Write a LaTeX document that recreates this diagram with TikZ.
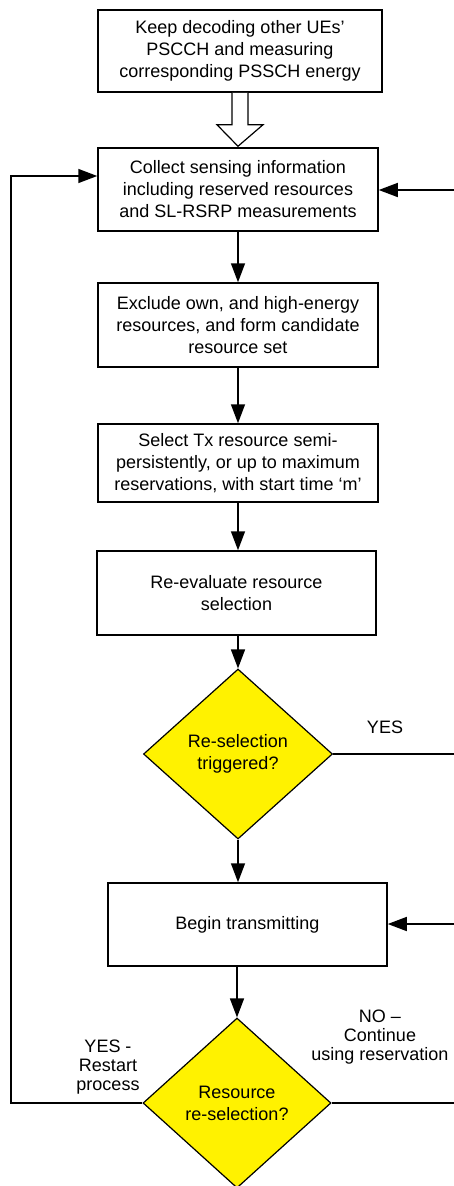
\documentclass[tikz,border=0pt]{standalone}
\usepackage{fontspec}
\setmainfont{Liberation Sans}
\usetikzlibrary{arrows.meta,calc,shapes.geometric}
\begin{document}
\begin{tikzpicture}[x=1pt,y=-1pt,
  line width=1.5pt,
  boxnode/.style={draw,rectangle,minimum width=280pt,inner sep=0pt,align=center,
    font=\fontsize{18pt}{22pt}\selectfont},
  decision/.style={draw,diamond,fill=yellow,minimum width=189pt,minimum height=170pt,
    inner sep=0pt,align=center,line width=1.2pt,font=\fontsize{18pt}{22pt}\selectfont},
  lbl/.style={align=center,inner sep=0pt,font=\fontsize{18pt}{19pt}\selectfont},
  arr/.style={-{Triangle[length=19pt,width=14pt]}}]
\useasboundingbox (0,0) rectangle (454,1186);
\node[boxnode,minimum width=284pt,minimum height=82pt] (b1) at (240,51)
  {Keep decoding other UEs’\\PSCCH and measuring\\corresponding PSSCH energy};
\node[boxnode,minimum height=83pt] (b2) at (238,189.5)
  {Collect sensing information\\including reserved resources\\and SL-RSRP measurements};
\node[boxnode,minimum height=84pt] (b3) at (238,325)
  {Exclude own, and high-energy\\resources, and form candidate\\resource set};
\node[boxnode,minimum height=78pt] (b4) at (238,463)
  {Select Tx resource semi-\\persistently, or up to maximum\\reservations, with start time ‘m’};
\node[boxnode,minimum width=279pt,minimum height=84pt] (b5) at (236.5,593)
  {Re-evaluate resource\\selection};
\node[decision] (d1) at (238,754) {Re-selection\\triggered?};
\node[boxnode,minimum width=279pt,minimum height=83pt] (b6) at (247.5,924.5)
  {Begin transmitting};
\node[decision,minimum width=188pt] (d2) at (237,1103) {Resource\\re-selection?};
% hollow arrow
\draw[line width=1.2pt,fill=white] ($(b1.south)+(-8,0)$) -- ++(0,32) -- ++(-15,0)
  -- ($(b2.north)+(0,-1)$) -- ($(b1.south)+(23,32)$) -- ++(-15,0) -- ($(b1.south)+(8,0)$);
% main flow
\draw[arr] (b2.south) -- (b3.north);
\draw[arr] (b3.south) -- (b4.north);
\draw[arr] (b4.south) -- (b4.south |- b5.north);
\draw[arr] (b5.south -| d1.north) -- (d1.north);
\draw[arr] (d1.south) -- (d1.south |- b6.north);
\draw[arr] (b6.south -| d2.north) -- (d2.north);
% left loop
\coordinate (lb) at (11,1103);
\coordinate (lt) at (11,176);
\draw[arr] (d2.west) -- (lb) -- (lt) -- (lt -| b2.west);
% right side connectors
\coordinate (r1) at (455,190);
\coordinate (r2) at (455,754);
\coordinate (r3) at (455,924);
\coordinate (r4) at (455,1103);
\draw[arr] (r1) -- (r1 -| b2.east);
\draw (d1.east) -- (r2);
\draw[arr] (r3) -- (r3 -| b6.east);
\draw (d2.east) -- (r4);
% labels
\node[lbl] (yes1) at (385,727) {YES};
\node[lbl] (yes2) at (108,1067) {YES -\\Restart\\process};
\node[lbl] (no2) at (380,1037) {NO –\\Continue\\using reservation};
\end{tikzpicture}
\end{document}
